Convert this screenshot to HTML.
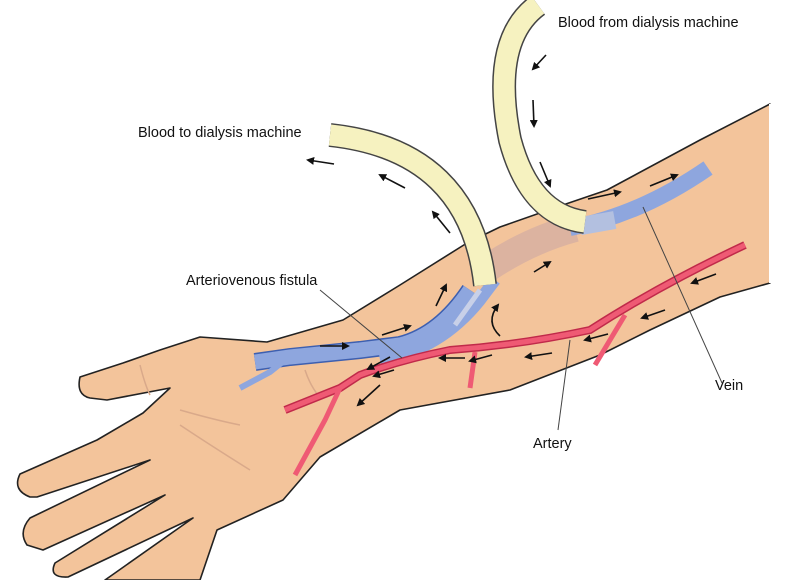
<!DOCTYPE html>
<html><head><style>html,body{margin:0;padding:0;background:#fff;}svg{display:block}</style></head>
<body>
<svg width="808" height="580" viewBox="0 0 808 580" xmlns="http://www.w3.org/2000/svg" font-family="Liberation Sans, sans-serif">
<defs>
<marker id="ah" markerWidth="8" markerHeight="8" refX="6" refY="4" orient="auto" markerUnits="userSpaceOnUse">
<path d="M0,0 L8,4 L0,8 Z" fill="#111"/></marker>
</defs>
<path d="M770,104 L700,140 L607,190 L557,207 L500,227 L467,243 L400,285 L343,320 L267,342 L200,337 L160,350 L123,363 L80,377 Q76,395 90,398 L107,400 L170,388 L143,413 L97,440 L20,474 Q12,490 30,497 L37,497 L150,460 L30,518 Q18,532 27,545 L43,550 L165,495 L55,563 Q48,578 68,577 L193,518 L115,573 L105,580 L200,580 L217,530 L283,500 L320,457 L400,410 L510,390 L600,355 L650,330 L720,297 L770,283 Z" fill="#f3c49b" stroke="#222" stroke-width="1.6" stroke-linejoin="round"/>
<path d="M770,104 L770,283" stroke="#fff" stroke-width="2"/>
<path d="M180,425 Q210,445 250,470 M180,410 Q215,420 240,425 M140,365 Q145,385 150,395 M305,370 Q310,385 318,395" fill="none" stroke="#d9a98a" stroke-width="1.5"/>
<path d="M255,362 L290,357 L360,350 L400,345 Q440,335 470,290" fill="none" stroke="#3d5fb0" stroke-width="18"/>
<path d="M255,362 L290,357 L360,350 L400,345 Q440,335 470,290" fill="none" stroke="#8ea6de" stroke-width="15"/>
<path d="M240,388 L270,372 L285,360" fill="none" stroke="#8ea6de" stroke-width="6"/>
<path d="M380,360 Q440,350 480,300 L495,280" fill="none" stroke="#8ea6de" stroke-width="12"/>
<path d="M488,268 Q530,240 575,228" fill="none" stroke="#dcb3a0" stroke-width="28"/>
<path d="M570,228 Q640,215 708,168" fill="none" stroke="#8ea6de" stroke-width="16"/>
<rect x="580" y="214" width="35" height="18" fill="#b3c0e0" transform="rotate(-10 598 223)"/>
<path d="M455,325 L480,290" stroke="#c8d0e8" stroke-width="5"/>
<path d="M745,245 Q660,285 590,330 Q520,345 450,350 Q400,360 360,375 L340,388 Q310,400 285,410" fill="none" stroke="#c02a4a" stroke-width="8"/>
<path d="M745,245 Q660,285 590,330 Q520,345 450,350 Q400,360 360,375 L340,388 Q310,400 285,410" fill="none" stroke="#ef5a74" stroke-width="5"/>
<path d="M340,388 L325,420 L295,475 M475,352 L470,388 M625,315 L595,365" fill="none" stroke="#ef5a74" stroke-width="5"/>
<path d="M330,135 Q470,150 485,285" fill="none" stroke="#444" stroke-width="24"/>
<path d="M330,135 Q470,150 485,285" fill="none" stroke="#f6f2c0" stroke-width="21"/>
<path d="M538,5 Q490,40 510,140 Q530,215 585,222" fill="none" stroke="#444" stroke-width="24"/>
<path d="M538,5 Q490,40 510,140 Q530,215 585,222" fill="none" stroke="#f6f2c0" stroke-width="21"/>
<g stroke="#111" stroke-width="1.6" marker-end="url(#ah)">
<line x1="546" y1="55" x2="533" y2="69"/>
<line x1="533" y1="100" x2="534" y2="126"/>
<line x1="540" y1="162" x2="550" y2="186"/>
<line x1="334" y1="164" x2="308" y2="160"/>
<line x1="405" y1="188" x2="380" y2="175"/>
<line x1="450" y1="233" x2="433" y2="212"/>
<line x1="436" y1="306" x2="446" y2="285"/>
<line x1="320" y1="346" x2="348" y2="346"/>
<line x1="382" y1="335" x2="410" y2="326"/>
<line x1="588" y1="199" x2="620" y2="192"/>
<line x1="650" y1="186" x2="677" y2="175"/>
<line x1="534" y1="272" x2="550" y2="262"/>
<line x1="716" y1="274" x2="692" y2="283"/>
<line x1="665" y1="310" x2="642" y2="318"/>
<line x1="608" y1="334" x2="585" y2="340"/>
<line x1="552" y1="353" x2="526" y2="357"/>
<line x1="465" y1="358" x2="440" y2="358"/>
<line x1="492" y1="355" x2="470" y2="361"/>
<line x1="390" y1="357" x2="368" y2="369"/>
<line x1="394" y1="370" x2="374" y2="376"/>
<line x1="380" y1="385" x2="358" y2="405"/>
</g>
<path d="M500,336 Q485,322 498,305" fill="none" stroke="#111" stroke-width="1.6" marker-end="url(#ah)"/>
<g stroke="#444" stroke-width="1">
<line x1="320" y1="290" x2="402" y2="358"/>
<line x1="643" y1="207" x2="722" y2="383"/>
<line x1="570" y1="340" x2="558" y2="430"/>
</g>
<g font-size="14.5" fill="#111">
<text x="558" y="27">Blood from dialysis machine</text>
<text x="138" y="137">Blood to dialysis machine</text>
<text x="186" y="285">Arteriovenous fistula</text>
<text x="715" y="390">Vein</text>
<text x="533" y="448">Artery</text>
</g>
</svg>
</body></html>
